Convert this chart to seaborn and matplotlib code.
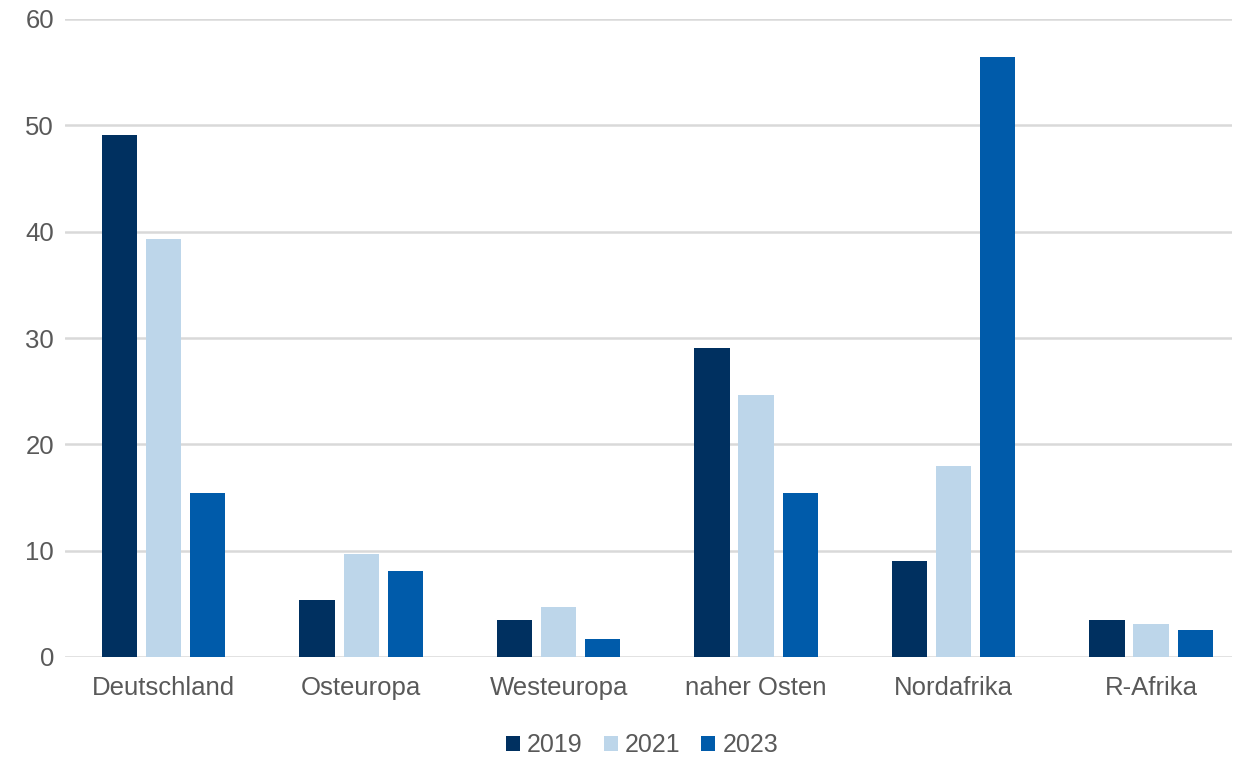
import matplotlib
matplotlib.use("Agg")
import matplotlib.pyplot as plt
import seaborn as sns
import pandas as pd

categories = ["Deutschland", "Osteuropa", "Westeuropa", "naher Osten", "Nordafrika", "R-Afrika"]
years = ["2019", "2021", "2023"]
v2019 = [49.1, 5.4, 3.5, 29.1, 9.0, 3.5]
v2021 = [39.3, 9.7, 4.7, 24.6, 18.0, 3.1]
v2023 = [15.4, 8.1, 1.7, 15.4, 56.4, 2.5]
colors = ["#003060", "#BDD6EA", "#005BAA"]

rows = []
for y, vals in zip(years, [v2019, v2021, v2023]):
    for c, v in zip(categories, vals):
        rows.append({"Region": c, "Jahr": y, "Wert": v})
df = pd.DataFrame(rows)

sns.set_theme(style="white")
plt.rcParams["font.family"] = ["Liberation Sans", "DejaVu Sans"]

fig = plt.figure(figsize=(12.35, 7.57), dpi=100)
ax = fig.add_axes([65 / 1235, 1 - 657 / 757, (1232 - 65) / 1235, (657 - 19) / 757])

sns.barplot(data=df, x="Region", y="Wert", hue="Jahr", order=categories, hue_order=years,
            palette=colors, width=0.67, gap=0.2, saturation=1, ax=ax, zorder=3,
            edgecolor="none")

ax.set_ylim(0, 60)
ax.set_xlim(-0.5, 5.41)
ax.set_yticks(range(0, 61, 10))
ax.yaxis.grid(True, color="#D9D9D9", linewidth=1.8, zorder=0)
ax.set_axisbelow(True)
for s in ax.spines.values():
    s.set_visible(False)
ax.tick_params(axis="both", length=0, labelsize=18.5, colors="#595959")
ax.tick_params(axis="x", pad=14)
ax.tick_params(axis="y", pad=8)
ax.set_xlabel("")
ax.set_ylabel("")

leg = ax.legend(loc="center", bbox_to_anchor=((642 - 65) / 1167, -0.138), ncol=3, frameon=False,
                fontsize=18, handlelength=0.56, handleheight=0.56, handletextpad=0.28,
                columnspacing=0.84, borderaxespad=0, borderpad=0)
for t in leg.get_texts():
    t.set_color("#595959")

fig.savefig("out.png", dpi=100)
